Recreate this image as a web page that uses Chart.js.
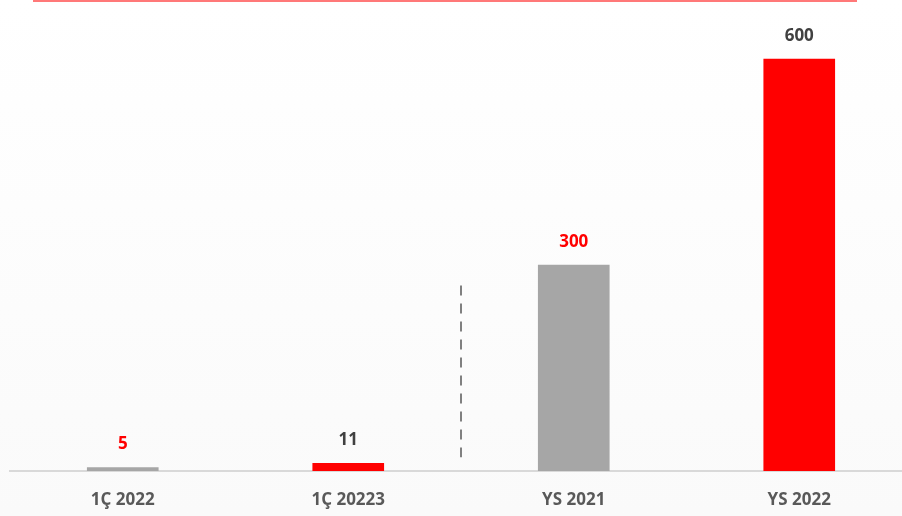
<!DOCTYPE html>
<html>
<head>
<meta charset="utf-8">
<script src="https://cdn.jsdelivr.net/npm/chart.js@4.4.1/dist/chart.umd.min.js"></script>
<style>
  html, body { margin: 0; padding: 0; }
  body { width: 902px; height: 516px; overflow: hidden; background: linear-gradient(#ffffff, #fafafa); }
  #wrap { width: 922px; height: 516px; position: relative; }
</style>
</head>
<body>
<div id="wrap"><canvas id="chart"></canvas></div>
<script>
// data
var categories = ['1Ç 2022', '1Ç 20223', 'YS 2021', 'YS 2022'];
var values = [5, 11, 300, 600];
var barColors = ['#a6a6a6', '#ff0000', '#a6a6a6', '#ff0000'];
var labelColors = ['#ff0000', '#404040', '#ff0000', '#404040'];

// value labels above the bars
var valueLabels = {
    id: 'valueLabels',
    afterDatasetsDraw: function (chart) {
        var ctx = chart.ctx;
        var meta = chart.getDatasetMeta(0);
        ctx.save();
        ctx.font = 'bold 17px "Open Sans"';
        ctx.textAlign = 'center';
        ctx.textBaseline = 'middle';
        meta.data.forEach(function (bar, i) {
            ctx.fillStyle = labelColors[i];
            ctx.fillText(values[i], bar.x, bar.y - 23);
        });
        ctx.restore();
    }
};

// red rule at the top and dashed divider between quarter and year bars
var decorations = {
    id: 'decorations',
    afterDraw: function (chart) {
        var ctx = chart.ctx;
        var x = chart.scales.x;
        var y = chart.scales.y;
        ctx.save();
        ctx.strokeStyle = '#ff7878';
        ctx.lineWidth = 2;
        ctx.beginPath();
        ctx.moveTo(33, 1);
        ctx.lineTo(857, 1);
        ctx.stroke();

        var mid = (x.getPixelForValue(1) + x.getPixelForValue(2)) / 2;
        ctx.strokeStyle = '#808080';
        ctx.setLineDash([10, 8]);
        ctx.beginPath();
        ctx.moveTo(mid, y.getPixelForValue(270));
        ctx.lineTo(mid, y.getPixelForValue(20));
        ctx.stroke();
        ctx.restore();
    }
};

var ctx = document.getElementById('chart').getContext('2d');
var chart = new Chart(ctx, {
    type: 'bar',
    data: {
        labels: categories,
        datasets: [{
            data: values,
            backgroundColor: barColors,
            barThickness: 71
        }]
    },
    options: {
        responsive: true,
        maintainAspectRatio: false,
        animation: false,
        layout: { padding: { left: 10, right: 10, top: 0, bottom: 0 } },
        plugins: {
            legend: { display: false },
            tooltip: { enabled: false }
        },
        scales: {
            y: {
                display: false,
                min: 0,
                max: 686
            },
            x: {
                grid: { display: false, drawTicks: false },
                border: { display: true, color: '#d9d9d9', width: 2 },
                ticks: {
                    color: '#595959',
                    padding: 19,
                    font: { family: 'Open Sans', weight: 'bold', size: 17 }
                },
                afterFit: function (scale) { scale.height = 45; }
            }
        }
    },
    plugins: [valueLabels, decorations]
});
</script>
</body>
</html>
